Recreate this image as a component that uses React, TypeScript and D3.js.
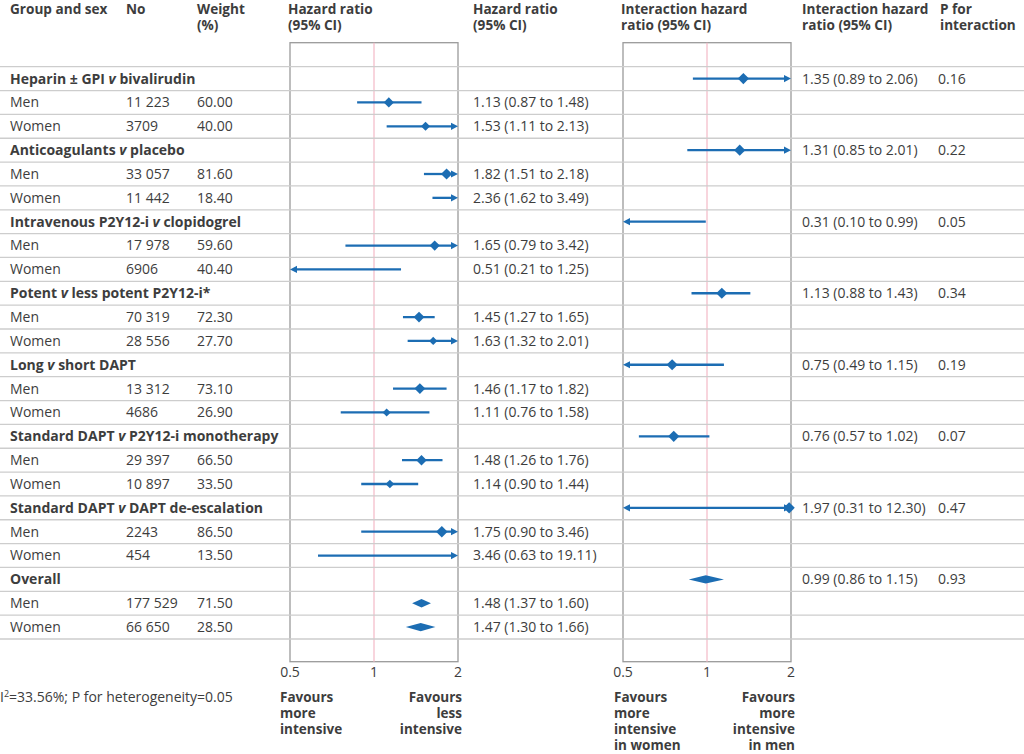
import React from "react";
import * as d3 from "d3";

const groupNames = [
  "Heparin ± GPI v bivalirudin",
  "Anticoagulants v placebo",
  "Intravenous P2Y12-i v clopidogrel",
  "Potent v less potent P2Y12-i*",
  "Long v short DAPT",
  "Standard DAPT v P2Y12-i monotherapy",
  "Standard DAPT v DAPT de-escalation",
  "Overall",
];
const menN = ["11 223", "33 057", "17 978", "70 319", "13 312", "29 397", "2243", "177 529"];
const womenN = ["3709", "11 442", "6906", "28 556", "4686", "10 897", "454", "66 650"];
const menWeight = [60.0, 81.6, 59.6, 72.3, 73.1, 66.5, 86.5, 71.5];
const womenWeight = [40.0, 18.4, 40.4, 27.7, 26.9, 33.5, 13.5, 28.5];
const menHR: [number, number, number][] = [
  [1.13, 0.87, 1.48], [1.82, 1.51, 2.18], [1.65, 0.79, 3.42], [1.45, 1.27, 1.65],
  [1.46, 1.17, 1.82], [1.48, 1.26, 1.76], [1.75, 0.9, 3.46], [1.48, 1.37, 1.6],
];
const womenHR: [number, number, number][] = [
  [1.53, 1.11, 2.13], [2.36, 1.62, 3.49], [0.51, 0.21, 1.25], [1.63, 1.32, 2.01],
  [1.11, 0.76, 1.58], [1.14, 0.9, 1.44], [3.46, 0.63, 19.11], [1.47, 1.3, 1.66],
];
const interHR: [number, number, number][] = [
  [1.35, 0.89, 2.06], [1.31, 0.85, 2.01], [0.31, 0.1, 0.99], [1.13, 0.88, 1.43],
  [0.75, 0.49, 1.15], [0.76, 0.57, 1.02], [1.97, 0.31, 12.3], [0.99, 0.86, 1.15],
];
const pInteraction = ["0.16", "0.22", "0.05", "0.34", "0.19", "0.07", "0.47", "0.93"];
const summaryGroup = "Overall";
const axisTicks = [0.5, 1, 2];
const heterogeneityText = "=33.56%; P for heterogeneity=0.05";

const BLUE = "#1c6db3";
const TEXT = "#3d3d3d";
const FONT = "'Open Sans', 'DejaVu Sans', sans-serif";
const FS = 14;

const fmt2 = (v: number) => v.toFixed(2);
const ciText = (h: [number, number, number]) => `${fmt2(h[0])} (${fmt2(h[1])} to ${fmt2(h[2])})`;

function GroupLabel({ name, x, y }: { name: string; x: number; y: number }) {
  const parts = name.split(" v ");
  return (
    <text x={x} y={y} fontWeight={700} fontSize={14} fill={TEXT}>
      {parts.length === 1 ? (
        parts[0]
      ) : (
        <>
          <tspan>{parts[0] + " "}</tspan>
          <tspan fontStyle="italic">v</tspan>
          <tspan>{" " + parts[1]}</tspan>
        </>
      )}
    </text>
  );
}

function CIMark({
  xs, h, cy, half, summary,
}: {
  xs: d3.ScaleLogarithmic<number, number>; h: [number, number, number]; cy: number; half: number; summary: boolean;
}) {
  const [est, lo, hi] = h;
  const [dmin, dmax] = xs.domain();
  if (summary) {
    const pts = [[xs(lo), cy], [xs(est), cy - 4.2], [xs(hi), cy], [xs(est), cy + 4.2]];
    return <polygon points={pts.map((p) => p.join(",")).join(" ")} fill={BLUE} />;
  }
  const aLen = 7, aHalf = 3.6;
  const leftArrow = lo < dmin;
  const rightArrow = hi > dmax;
  const x1 = xs(Math.max(lo, dmin));
  const x2 = xs(Math.min(hi, dmax));
  const showDot = est <= dmax && xs(est) - half >= xs.range()[0];
  return (
    <g>
      <line
        x1={leftArrow ? x1 + aLen - 1 : x1}
        x2={rightArrow ? x2 - aLen + 1 : x2}
        y1={cy}
        y2={cy}
        stroke={BLUE}
        strokeWidth={2.3}
      />
      {leftArrow && (
        <polygon points={`${x1},${cy} ${x1 + aLen},${cy - aHalf} ${x1 + aLen},${cy + aHalf}`} fill={BLUE} />
      )}
      {rightArrow && (
        <polygon points={`${x2},${cy} ${x2 - aLen},${cy - aHalf} ${x2 - aLen},${cy + aHalf}`} fill={BLUE} />
      )}
      {showDot && (
        <polygon
          points={`${xs(est) - half},${cy} ${xs(est)},${cy - half} ${xs(est) + half},${cy} ${xs(est)},${cy + half}`}
          fill={BLUE}
        />
      )}
    </g>
  );
}

export default function App() {
  const W = 1024, H = 754;
  const rowTop = 66.7;
  const nRows = groupNames.length * 3;
  const rowH = (639 - rowTop) / nRows;
  const boxTop = 42.7, boxBottom = 661.7;
  const xL = d3.scaleLog().domain([0.5, 2]).range([290, 458]);
  const xR = d3.scaleLog().domain([0.5, 2]).range([623, 791]);
  const cyOf = (i: number) => rowTop + rowH * (i + 0.5);
  const base = 4.9;
  const col = { label: 10, n: 126, w: 197, hrText: 473, intText: 802, p: 938 };
  const dotHalf = (w: number) => 2 + 4 * Math.sqrt(w / 100);

  const headers: { x: number; lines: string[] }[] = [
    { x: 10, lines: ["Group and sex"] },
    { x: 126, lines: ["No"] },
    { x: 197, lines: ["Weight", "(%)"] },
    { x: 288, lines: ["Hazard ratio", "(95% CI)"] },
    { x: 473, lines: ["Hazard ratio", "(95% CI)"] },
    { x: 621, lines: ["Interaction hazard", "ratio (95% CI)"] },
    { x: 802, lines: ["Interaction hazard", "ratio (95% CI)"] },
    { x: 940, lines: ["P for", "interaction"] },
  ];

  const panels = [
    { xs: xL, left: ["Favours", "more", "intensive"], right: ["Favours", "less", "intensive"], lx: 280, rx: 462 },
    { xs: xR, left: ["Favours", "more", "intensive", "in women"], right: ["Favours", "more", "intensive", "in men"], lx: 614, rx: 795 },
  ];

  return (
    <svg
      width={W}
      height={H}
      style={{ position: "absolute", left: 0, top: 0, background: "#fff" }}
      fontFamily={FONT}
    >
      {/* headers */}
      {headers.map((h, i) =>
        h.lines.map((l, j) => (
          <text key={`${i}-${j}`} x={h.x} y={13.5 + j * 16} fontWeight={700} fontSize={13.6} fill={TEXT}>
            {l}
          </text>
        ))
      )}

      {/* panel boxes & reference lines */}
      {panels.map((p, i) => (
        <g key={i}>
          <rect
            x={p.xs.range()[0]}
            y={boxTop}
            width={p.xs.range()[1] - p.xs.range()[0]}
            height={boxBottom - boxTop}
            fill="none"
            stroke="#9a9a9a"
            strokeWidth={1.3}
          />
          <line x1={p.xs(1)} x2={p.xs(1)} y1={boxTop} y2={boxBottom} stroke="#f3b9c6" strokeWidth={1.2} />
          {axisTicks.map((t, k) => (
            <text key={k} x={p.xs(t)} y={677} fontSize={FS} fill={TEXT} textAnchor="middle">
              {String(t)}
            </text>
          ))}
          {p.left.map((l, j) => (
            <text key={`l${j}`} x={p.lx} y={702 + j * 16} fontWeight={700} fontSize={13.5} fill={TEXT}>{l}</text>
          ))}
          {p.right.map((l, j) => (
            <text key={`r${j}`} x={p.rx} y={702 + j * 16} fontWeight={700} fontSize={13.5} fill={TEXT} textAnchor="end">{l}</text>
          ))}
        </g>
      ))}

      {/* row separators */}
      {d3.range(nRows + 1).map((k) => (
        <line key={k} x1={0} x2={W} y1={rowTop + rowH * k} y2={rowTop + rowH * k} stroke="#cdcdcd" strokeWidth={1.3} />
      ))}

      {/* rows */}
      {groupNames.map((g, gi) => {
        const summary = g === summaryGroup;
        const cg = cyOf(gi * 3);
        const cm = cyOf(gi * 3 + 1);
        const cw = cyOf(gi * 3 + 2);
        return (
          <g key={gi}>
            <GroupLabel name={g} x={col.label} y={cg + base} />
            <text x={col.intText} y={cg + base} fontSize={FS} fill={TEXT}>{ciText(interHR[gi])}</text>
            <text x={col.p} y={cg + base} fontSize={FS} fill={TEXT}>{pInteraction[gi]}</text>
            <CIMark xs={xR} h={interHR[gi]} cy={cg} half={5.6} summary={summary} />

            {[
              { label: "Men", n: menN[gi], w: menWeight[gi], h: menHR[gi], cy: cm },
              { label: "Women", n: womenN[gi], w: womenWeight[gi], h: womenHR[gi], cy: cw },
            ].map((r, ri) => (
              <g key={ri}>
                <text x={col.label} y={r.cy + base} fontSize={FS} fill={TEXT}>{r.label}</text>
                <text x={col.n} y={r.cy + base} fontSize={FS} fill={TEXT}>{r.n}</text>
                <text x={col.w} y={r.cy + base} fontSize={FS} fill={TEXT}>{r.w.toFixed(2)}</text>
                <text x={col.hrText} y={r.cy + base} fontSize={FS} fill={TEXT}>{ciText(r.h)}</text>
                <CIMark xs={xL} h={r.h} cy={r.cy} half={dotHalf(r.w)} summary={summary} />
              </g>
            ))}
          </g>
        );
      })}

      <text x={0} y={702} fontSize={FS} fill={TEXT}>
        I<tspan fontSize={9} dy={-5}>2</tspan>
        <tspan dy={5}>{heterogeneityText}</tspan>
      </text>
    </svg>
  );
}
